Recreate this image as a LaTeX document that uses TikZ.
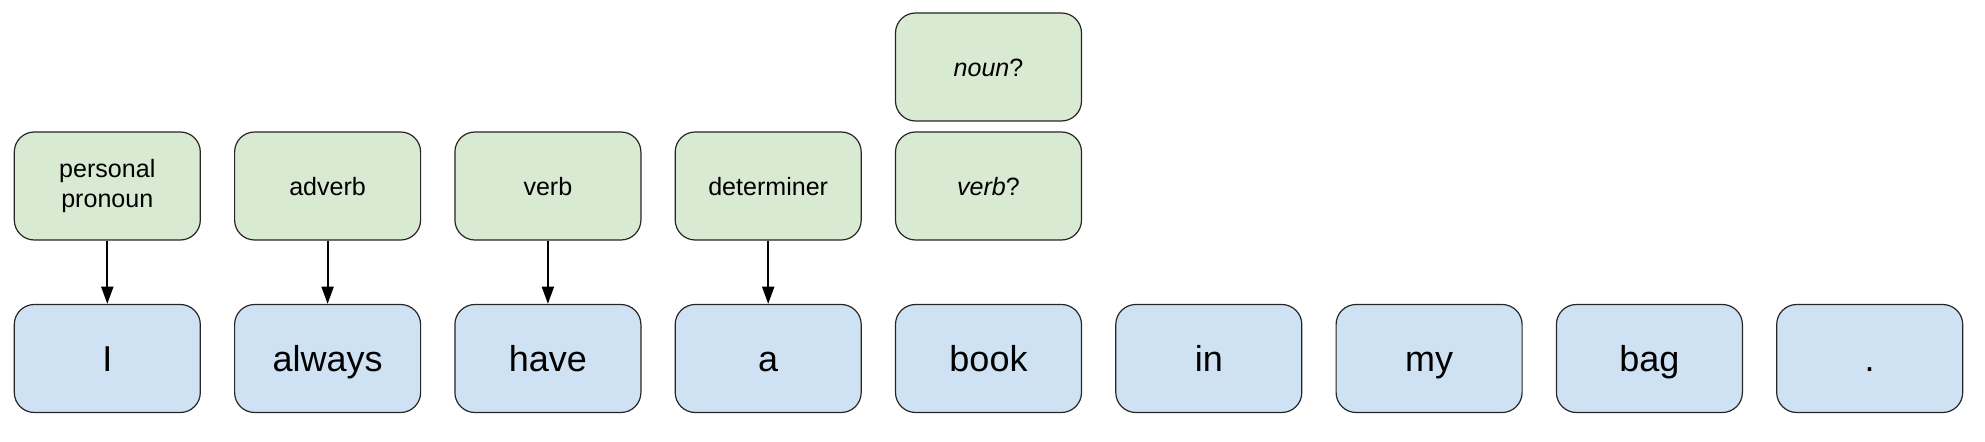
\documentclass[tikz,border=0pt]{standalone}
\usepackage{fontspec}
\setmainfont{Liberation Sans}
\usetikzlibrary{arrows.meta}

\definecolor{wordblue}{HTML}{CFE2F3}
\definecolor{tagsgreen}{HTML}{D9EAD3}

\tikzset{
  wordbox/.style={draw=black!85, line width=0.9pt, fill=wordblue, rounded corners=15pt,
    minimum width=139.5pt, minimum height=81pt, text height=20pt, text depth=0pt,
    font=\fontsize{27}{32}\selectfont},
  tagbox/.style={draw=black!85, line width=0.9pt, fill=tagsgreen, rounded corners=15pt,
    minimum width=139.5pt, minimum height=81pt, align=center,
    font=\fontsize{18.8}{22.5}\selectfont},
  tagline/.style={tagbox, text height=15pt, text depth=0pt},
  tagarrow/.style={-{Triangle[width=9pt,length=13pt]}, line width=1.6pt}
}

\begin{document}
\begin{tikzpicture}[x=0.75pt,y=0.75pt]
    \useasboundingbox (0,0) rectangle (1985,442);

    % Words
    \node[wordbox] (w1) at (107.3,83.5) {I};
    \node[wordbox] (w2) at (327.6,83.5) {always};
    \node[wordbox] (w3) at (547.9,83.5) {have};
    \node[wordbox] (w4) at (768.2,83.5) {a};
    \node[wordbox] (w5) at (988.5,83.5) {book};
    \node[wordbox] (w6) at (1208.8,83.5) {in};
    \node[wordbox] (w7) at (1429.1,83.5) {my};
    \node[wordbox] (w8) at (1649.4,83.5) {bag};
    \node[wordbox] (w9) at (1869.7,83.5) {.};

    % Tags
    \node[tagbox] (t1) at (107.3,256) {personal\\pronoun};
    \node[tagline] (t2) at (327.6,256) {adverb};
    \node[tagline] (t3) at (547.9,256) {verb};
    \node[tagline] (t4) at (768.2,256) {determiner};
    \node[tagline] (t5) at (988.5,256) {\textit{verb}?};
    \node[tagline] (t5b) at (988.5,375) {\textit{noun}?};

    % Arrows
    \draw[tagarrow] (t1) -- (w1);
    \draw[tagarrow] (t2) -- (w2);
    \draw[tagarrow] (t3) -- (w3);
    \draw[tagarrow] (t4) -- (w4);
\end{tikzpicture}
\end{document}
